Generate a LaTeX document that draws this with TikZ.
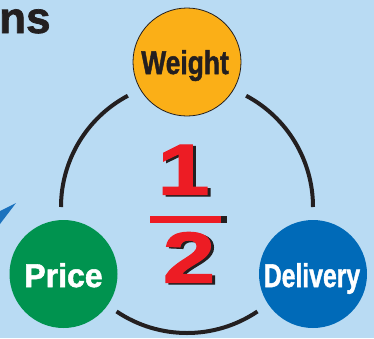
\documentclass[tikz,border=0pt]{standalone}
\usepackage{fontspec}
\setmainfont{Liberation Sans}
\newfontfamily\heavyfont[FakeBold=1.6]{Liberation Sans Bold}
\definecolor{bgblue}{HTML}{B9DBF3}
\definecolor{worange}{HTML}{FBAF17}
\definecolor{pgreen}{HTML}{00934F}
\definecolor{dblue}{HTML}{006AB8}
\definecolor{fred}{HTML}{ED1C24}
\definecolor{ink}{HTML}{231F20}
\definecolor{arrowblue}{HTML}{1B72BE}
\begin{document}
\begin{tikzpicture}[x=1pt,y=-1pt,
  ball/.style={circle,minimum size=108pt,inner sep=0pt},
  lbl/.style={anchor=base,inner sep=0pt,font=\fontsize{33}{33}\heavyfont},
  ring/.style={line width=4pt,draw=ink,line cap=butt},
  digit/.style={anchor=base,inner sep=0pt,font=\fontsize{72}{72}\heavyfont}]
\fill[bgblue] (0,0) rectangle (374,338);
\useasboundingbox (0,0) rectangle (374,338);
% partial title
\node[anchor=base west,inner sep=0pt,text=ink,font=\fontsize{44}{44}\heavyfont] (title) at (-1,33) {ns};
% arrow tip
\fill[arrowblue] (16,203) -- (0,211) -- (0,224) -- cycle;
% ring
\coordinate (c) at (187,207);
\draw[ring] (c) ++(-118:126) arc[start angle=-118,end angle=-180,radius=126];
\draw[ring] (c) ++(-236:126) arc[start angle=-236,end angle=-304,radius=126];
\draw[ring] (c) ++(0:126) arc[start angle=0,end angle=-62,radius=126];
% circles
\node[ball,fill=worange,draw=ink,line width=0.8pt] (weight) at (187,62) {};
\node[ball,fill=pgreen] (price) at (63.5,274) {};
\node[ball,fill=dblue] (delivery) at (313,274) {};
\node[lbl,text=ink] (wl) at (185,74) {\scalebox{0.8}[1]{Weight}};
\node[lbl,text=white] (pl) at (63.5,287) {\scalebox{0.97}[1]{Price}};
\node[lbl,text=white] (dl) at (312,287) {\scalebox{0.75}[1]{Delivery}};
% fraction
\node[digit,text=ink] (oneS) at (186.5,196) {\scalebox{1.3}[1]{1}};
\node[digit,text=fred] (one) at (183.5,194.5) {\scalebox{1.3}[1]{1}};
\fill[fred] (150,216) rectangle (221,223);
\fill[ink] (221,216) rectangle (227,223);
\node[digit,text=ink] (twoS) at (192,284) {\scalebox{1.3}[1]{2}};
\node[digit,text=fred] (two) at (189,282.5) {\scalebox{1.3}[1]{2}};
\end{tikzpicture}
\end{document}
